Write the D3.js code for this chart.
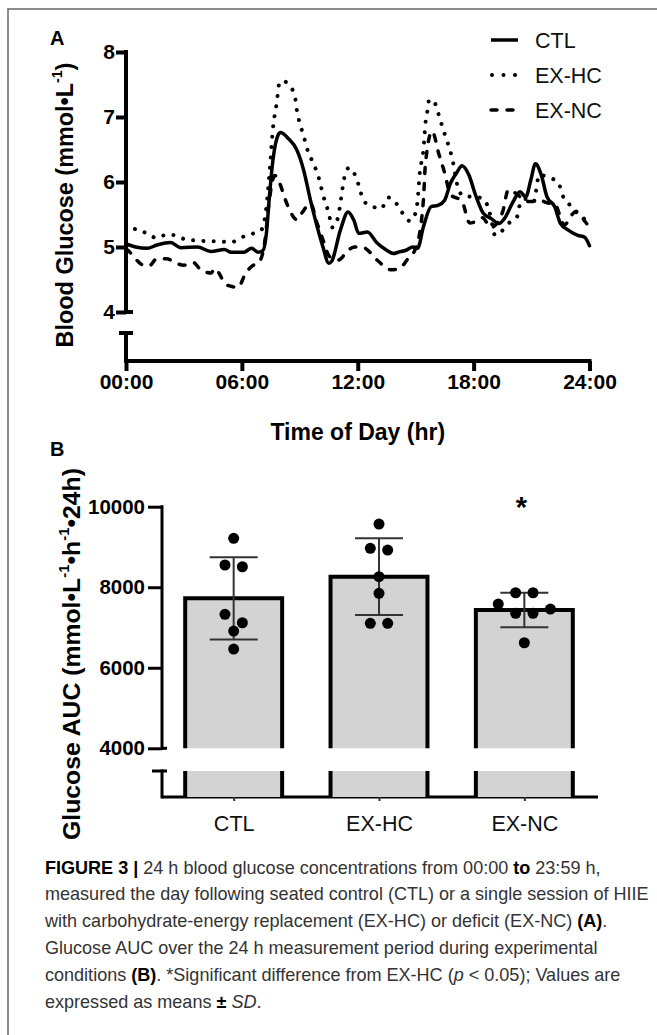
<!DOCTYPE html>
<html><head><meta charset="utf-8">
<script src="https://cdn.jsdelivr.net/npm/d3@7"></script>
<style>
body{margin:0;background:#fff;}
svg{display:block;font-family:"Liberation Sans",Arial,Helvetica,sans-serif;}
</style></head><body>
<svg id="c" width="657" height="1035"></svg>
<script>
// ---------- Panel A data (hour of day, blood glucose mmol/L) ----------
const ctlHours = [0,0.5,1.1,1.6,2.3,2.85,3.7,4.4,5.1,5.45,6.1,6.5,6.85,7.1,7.27,7.44,7.61,7.87,8.0,8.4,8.85,9.2,9.55,9.9,10.2,10.5,10.65,11.1,11.5,11.8,12.05,12.5,13.0,13.5,13.85,14.1,14.5,14.85,15.1,15.4,15.8,16.15,16.5,16.8,17.1,17.4,17.75,18.1,18.5,18.9,19.3,19.6,20.05,20.4,20.7,20.96,21.2,21.5,21.8,22.2,22.5,22.9,23.4,23.75,24.0];
const ctlGlucose = [5.05,5.0,4.98,5.03,5.07,4.99,5.0,4.93,4.96,4.92,4.92,4.98,4.92,4.95,5.21,5.83,6.34,6.72,6.76,6.67,6.49,6.18,5.72,5.31,5.0,4.75,4.78,5.26,5.54,5.41,5.21,5.23,5.06,4.95,4.9,4.92,4.95,5.0,4.98,5.31,5.62,5.64,5.72,5.98,6.13,6.25,6.11,5.8,5.52,5.44,5.36,5.44,5.7,5.85,5.77,6.03,6.28,6.11,5.77,5.62,5.36,5.26,5.18,5.15,5.02];

const exhcHours = [0,0.55,1.0,1.6,2.1,2.7,3.1,3.7,4.2,4.8,5.4,6.0,6.6,7.0,7.27,7.44,7.6,7.8,7.96,8.15,8.45,8.75,8.85,9.0,9.2,9.37,9.6,9.85,10.05,10.2,10.4,10.55,10.65,10.85,11.0,11.1,11.2,11.3,11.55,11.9,12.1,12.3,12.8,13.2,13.6,13.95,14.3,14.7,15.0,15.1,15.2,15.3,15.4,15.45,15.5,15.6,15.7,16.0,16.2,16.4,16.6,16.8,16.95,17.2,17.5,18.1,18.5,18.8,19.0,19.1,19.4,19.8,20.3,20.4,20.7,21.1,21.4,21.6,22.0,22.4,22.6,23.0,23.3,23.75,23.85];
const exhcGlucose = [5.2,5.28,5.22,5.14,5.19,5.17,5.11,5.1,5.09,5.09,5.07,5.15,5.21,5.26,5.62,6.18,6.8,7.21,7.54,7.55,7.49,7.31,7.1,6.9,6.71,6.52,6.35,6.18,5.99,5.8,5.62,5.45,5.3,5.35,5.49,5.67,5.88,6.06,6.22,6.08,5.9,5.71,5.62,5.59,5.76,5.69,5.53,5.4,5.53,5.72,6.11,6.31,6.5,6.69,6.89,7.08,7.27,7.21,7.03,6.83,6.65,6.47,6.28,5.9,5.78,5.77,5.74,5.56,5.3,5.18,5.23,5.36,5.49,5.67,5.74,5.69,6.11,6.1,6.06,5.98,5.8,5.64,5.54,5.42,5.31];

const exncHours = [0,0.2,0.4,0.9,1.2,1.6,2.1,2.6,3.0,3.5,3.8,4.4,4.6,4.87,5.1,5.5,5.8,6.2,6.5,6.9,7.2,7.4,7.7,7.96,8.2,8.5,8.85,9.1,9.55,9.9,10.2,10.55,11.0,11.5,11.85,12.3,13.0,13.7,14.1,14.6,15.0,15.4,15.5,15.85,16.2,16.5,16.8,17.4,17.8,18.0,18.45,18.9,19.5,19.8,20.3,20.7,21.0,21.4,21.8,22.2,22.7,23.1,23.3,23.8,24.0];
const exncGlucose = [4.97,4.92,4.85,4.72,4.71,4.82,4.82,4.75,4.72,4.76,4.67,4.6,4.67,4.57,4.44,4.39,4.38,4.6,4.7,4.77,5.11,5.67,6.1,5.98,5.77,5.55,5.42,5.52,5.67,5.36,5.11,4.85,4.8,4.95,5.0,4.99,4.8,4.65,4.66,4.82,4.98,5.72,6.26,6.78,6.43,6.14,5.81,5.7,5.37,5.38,5.45,5.3,5.54,5.88,5.8,5.7,5.7,5.72,5.68,5.66,5.34,5.5,5.55,5.38,5.3];

const timeTickValues = [0,6,12,18,24];
const timeTickLabels = ["00:00","06:00","12:00","18:00","24:00"];
const glucoseTicks = [4,5,6,7,8];

// ---------- Panel B data (glucose AUC) ----------
const groups = ["CTL","EX-HC","EX-NC"];
const aucCTL  = [9215,8552,8509,7327,7118,6912,6465];
const aucEXHC = [9570,8966,8923,8261,7848,7103,7103];
const aucEXNC = [7863,7863,7583,7458,7351,7351,6621];
const aucMean = [7724,8261,7433];
const aucSD   = [1022,953,427];
const aucSig  = ["","","*"];
const aucTicks = [4000,6000,8000,10000];

const svg = d3.select("#c");

// frame
svg.append("rect").attr("x",8).attr("y",9).attr("width",720).attr("height",1100)
  .attr("fill","none").attr("stroke","#6e6e6e").attr("stroke-width",1.6);

// ================= Panel A =================
const xA = d3.scaleLinear().domain([0,24]).range([126,589.5]);
const yA = d3.scaleLinear().domain([4,8]).range([312,52]);
const axisYA = 361, breakA = 333;

svg.append("text").attr("x",50).attr("y",44.5).attr("font-size",20).attr("font-weight","bold").text("A");

svg.append("g").attr("transform",`translate(${xA(0)},0)`)
  .call(d3.axisLeft(yA).tickValues(glucoseTicks).tickSize(10).tickPadding(1).tickFormat(d3.format("d")))
  .call(g=>{
    g.select(".domain").remove();
    g.selectAll(".tick line").attr("stroke","#000").attr("stroke-width",4);
    g.selectAll(".tick text").attr("font-size",21).attr("font-weight","bold").attr("fill","#000").attr("font-family",null);
  });
const axA = svg.append("g").attr("stroke","#000").attr("stroke-width",4).attr("stroke-linecap","square");
axA.append("line").attr("x1",xA(0)).attr("x2",xA(0)).attr("y1",yA(8)).attr("y2",yA(4));
axA.append("line").attr("x1",xA(0)).attr("x2",xA(0)+7).attr("y1",yA(4)).attr("y2",yA(4)).attr("stroke-linecap","butt");
axA.append("line").attr("x1",xA(0)).attr("x2",xA(0)).attr("y1",breakA).attr("y2",axisYA);
axA.append("line").attr("x1",xA(0)-7).attr("x2",xA(0)+7).attr("y1",breakA).attr("y2",breakA).attr("stroke-linecap","butt");
axA.append("line").attr("x1",xA(0)).attr("x2",xA(24)).attr("y1",axisYA).attr("y2",axisYA);
svg.append("g").attr("transform",`translate(0,${axisYA})`)
  .call(d3.axisBottom(xA).tickValues(timeTickValues).tickSize(10).tickPadding(0).tickFormat((d,i)=>timeTickLabels[i]))
  .call(g=>{
    g.select(".domain").remove();
    g.selectAll(".tick line").attr("stroke","#000").attr("stroke-width",4);
    g.selectAll(".tick text").attr("font-size",21).attr("font-weight","bold").attr("fill","#000")
      .attr("font-family",null).attr("y",27.5).attr("dy",null);
  });
svg.append("text").attr("x",(xA(0)+xA(24))/2).attr("y",440).attr("text-anchor","middle")
  .attr("font-size",23).attr("font-weight","bold").text("Time of Day (hr)");

function supTitle(x, yc, parts, target){
  const t = svg.append("text").attr("transform",`translate(${x},${yc}) rotate(-90)`)
    .attr("text-anchor","middle").attr("font-weight","bold").attr("font-size",22);
  let prevSup = false;
  parts.forEach(p=>{
    const ts = t.append("tspan").text(p.t);
    if (p.sup){ ts.attr("font-size","0.6em").attr("dy","-0.75em"); prevSup = true; }
    else if (prevSup){ ts.attr("dy","0.45em"); prevSup = false; }
  });
  const len = t.node().getComputedTextLength();
  t.attr("font-size", 22*target/len);
  return t;
}
supTitle(73, 205, [{t:"Blood Glucose (mmol•L"},{t:"-1",sup:true},{t:")"}], 285);

const lineGen = d3.line().curve(d3.curveMonotoneX).x(d=>xA(d[0])).y(d=>yA(d[1]));
const seriesA = [
  {name:"CTL",  hours:ctlHours,  vals:ctlGlucose,  dash:null},
  {name:"EX-HC",hours:exhcHours, vals:exhcGlucose, dash:"0.01 10.3"},
  {name:"EX-NC",hours:exncHours, vals:exncGlucose, dash:"6 10"}
];
seriesA.forEach(s=>{
  svg.append("path").datum(d3.zip(s.hours,s.vals)).attr("d",lineGen)
    .attr("fill","none").attr("stroke","#000").attr("stroke-width",s.name==="EX-HC"?4:3.5)
    .attr("stroke-linejoin","round").attr("stroke-linecap","round")
    .attr("stroke-dasharray",s.dash);
});
const legY = d3.scalePoint().domain(seriesA.map(s=>s.name)).range([40,110]);
seriesA.forEach(s=>{
  svg.append("line").attr("x1",s.name==="EX-HC"?492:491).attr("x2",518).attr("y1",legY(s.name)).attr("y2",legY(s.name))
    .attr("stroke","#000").attr("stroke-width",s.name==="EX-HC"?4:3.5)
    .attr("stroke-linecap",s.name==="CTL"?"butt":"round").attr("stroke-dasharray",s.name==="EX-HC"?"0.01 11.5":s.dash);
  svg.append("text").attr("x",535).attr("y",legY(s.name)+7.6).attr("font-size",21.5).attr("fill","#111").text(s.name);
});

// ================= Panel B =================
svg.append("text").attr("x",50).attr("y",456).attr("font-size",20).attr("font-weight","bold").text("B");
const yB = d3.scaleLinear().domain([4000,10000]).range([748.3,506.7]);
const xB = d3.scalePoint().domain(groups).range([161,597]).padding(0.5);
const axisYB = 797, breakB = 771, axisXB0 = 162;
const barW = xB.step()*0.667;

supTitle(80, 654, [{t:"Glucose AUC (mmol•L"},{t:"-1",sup:true},{t:"•h"},{t:"-1",sup:true},{t:"•24h)"}], 372);

svg.append("g").attr("transform",`translate(${axisXB0},0)`)
  .call(d3.axisLeft(yB).tickValues(aucTicks).tickSize(14).tickPadding(3).tickFormat(d3.format("d")))
  .call(g=>{
    g.select(".domain").remove();
    g.selectAll(".tick line").attr("stroke","#000").attr("stroke-width",3);
    g.selectAll(".tick text").attr("font-size",20.5).attr("font-weight","bold").attr("fill","#000").attr("font-family",null);
  });
const axB = svg.append("g").attr("stroke","#000").attr("stroke-width",3).attr("stroke-linecap","square");
axB.append("line").attr("x1",axisXB0).attr("x2",axisXB0).attr("y1",yB(10000)).attr("y2",yB(4000));
axB.append("line").attr("x1",axisXB0).attr("x2",axisXB0+5).attr("y1",yB(4000)).attr("y2",yB(4000)).attr("stroke-linecap","butt");
axB.append("line").attr("x1",axisXB0).attr("x2",axisXB0).attr("y1",breakB).attr("y2",axisYB);
axB.append("line").attr("x1",axisXB0-10).attr("x2",axisXB0+5).attr("y1",breakB).attr("y2",breakB).attr("stroke-linecap","butt");

const aucPoints = [aucCTL, aucEXHC, aucEXNC];
groups.forEach((g,i)=>{
  const cx = xB(g), l = cx-barW/2, r = cx+barW/2, top = yB(aucMean[i]);
  svg.append("rect").attr("x",l).attr("y",top).attr("width",barW).attr("height",yB(4000)-top).attr("fill","#d3d3d3");
  svg.append("rect").attr("x",l).attr("y",breakB).attr("width",barW).attr("height",axisYB-breakB).attr("fill","#d3d3d3");
  svg.append("path").attr("d",`M${l},${yB(4000)}V${top}H${r}V${yB(4000)}`)
    .attr("fill","none").attr("stroke","#000").attr("stroke-width",4).attr("stroke-linejoin","miter");
  svg.append("path").attr("d",`M${l},${breakB}V${axisYB}M${r},${breakB}V${axisYB}`)
    .attr("fill","none").attr("stroke","#000").attr("stroke-width",4);
});
axB.append("line").attr("x1",axisXB0).attr("x2",xB.range()[1]+1).attr("y1",axisYB).attr("y2",axisYB).attr("stroke-linecap","butt");
svg.append("g").attr("transform",`translate(0,${axisYB})`)
  .call(d3.axisBottom(xB).tickSize(4).tickPadding(0))
  .call(g=>{
    g.select(".domain").remove();
    g.selectAll(".tick line").attr("stroke","#333").attr("stroke-width",2);
    g.selectAll(".tick text").attr("font-size",21.5).attr("fill","#111").attr("font-family",null)
      .attr("y",34).attr("dy",null);
  });

groups.forEach((g,i)=>{
  const cx = xB(g), hi = yB(aucMean[i]+aucSD[i]), lo = yB(aucMean[i]-aucSD[i]);
  const eb = svg.append("g").attr("stroke","#333").attr("stroke-width",2);
  eb.append("line").attr("x1",cx).attr("x2",cx).attr("y1",hi).attr("y2",lo);
  eb.append("line").attr("x1",cx-24).attr("x2",cx+24).attr("y1",hi).attr("y2",hi);
  eb.append("line").attr("x1",cx-24).attr("x2",cx+24).attr("y1",lo).attr("y2",lo);
});

const R = 5.5;
function swarm(vals, cx){
  const pts = vals.map(v=>({v, y:yB(v)}));
  const sorted = pts.slice().sort((a,b)=>a.y-b.y);
  const bins = []; let cur = null;
  sorted.forEach(p=>{
    if(!cur || p.y-cur.y0 >= 2*R){ cur={y0:p.y,items:[]}; bins.push(cur); }
    cur.items.push(p);
  });
  const step = 2*R*1.58;
  bins.forEach(b=>{
    const n=b.items.length;
    const slots=d3.range(n).map(k=>(k-(n-1)/2)*step);
    const order=[]; let lo=0, hi=n-1;
    while(lo<=hi){ order.push(slots[lo]); if(hi!==lo) order.push(slots[hi]); lo++; hi--; }
    b.items.forEach((p,k)=>p.x=cx+order[k]);
  });
  return pts;
}
groups.forEach((g,i)=>{
  svg.append("g").selectAll("circle").data(swarm(aucPoints[i], xB(g))).join("circle")
    .attr("cx",d=>d.x).attr("cy",d=>d.y).attr("r",R).attr("fill","#000");
  if(aucSig[i]) svg.append("text").attr("x",xB(g)-3).attr("y",yB(10000)+10).attr("text-anchor","middle")
    .attr("font-size",29).attr("font-weight","bold").text(aucSig[i]);
});

// ================= Caption =================
const captionLines = [
  [{t:"FIGURE 3 | ",b:1},{t:"24 h blood glucose concentrations from 00:00 "},{t:"to",b:1},{t:" 23:59 h,"}],
  [{t:"measured the day following seated control (CTL) or a single session of HIIE"}],
  [{t:"with carbohydrate-energy replacement (EX-HC) or deficit (EX-NC) "},{t:"(A)",b:1},{t:"."}],
  [{t:"Glucose AUC over the 24 h measurement period during experimental"}],
  [{t:"conditions "},{t:"(B)",b:1},{t:". *Significant difference from EX-HC ("},{t:"p",i:1},{t:" < 0.05); Values are"}],
  [{t:"expressed as means "},{t:"±",b:1},{t:" "},{t:"SD",i:1},{t:"."}]
];
const capY = d3.scaleLinear().domain([0,5]).range([873.5,1007.5]);
let sx = 1;
captionLines.forEach((parts,li)=>{
  const t = svg.append("text").attr("font-size",19).attr("fill","#333");
  parts.forEach(p=>{
    const ts=t.append("tspan").text(p.t);
    if(p.b) ts.attr("font-weight","bold").attr("fill","#000");
    if(p.i) ts.attr("font-style","italic");
  });
  if(li===0){ sx = 556/t.node().getComputedTextLength(); }
  t.attr("transform",`translate(45,${capY(li)}) scale(${sx},1)`);
});
</script></body></html>
